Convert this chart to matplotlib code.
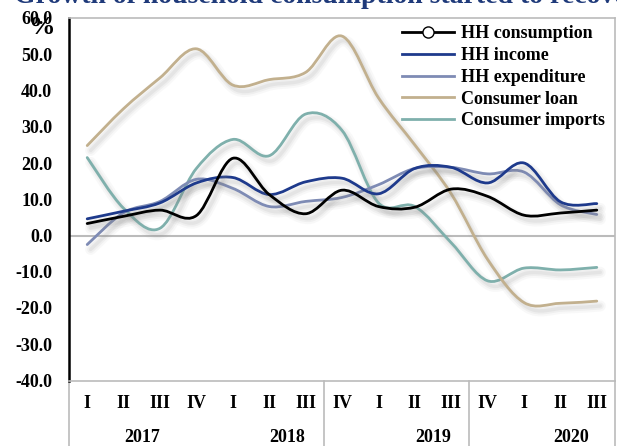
import matplotlib
matplotlib.use("Agg")
import matplotlib.pyplot as plt
import matplotlib.patheffects as pe
from matplotlib.path import Path
from matplotlib.patches import PathPatch
from matplotlib.lines import Line2D
import matplotlib.transforms as mtransforms

plt.rcParams["font.family"] = "Liberation Serif"
plt.rcParams["font.weight"] = "bold"

quarters = ["I", "II", "III", "IV", "I", "II", "III", "IV",
            "I", "II", "III", "IV", "I", "II", "III"]
years = ["2017", "2018", "2019", "2020"]
year_pos = [2.0, 6.0, 10.0, 13.8]
year_breaks = [7, 11]

consumption = [3.3, 5.3, 7.0, 5.5, 21.3, 11.3, 6.0, 12.5, 8.0, 7.8, 12.8, 10.8, 5.6, 6.2, 7.0]
income = [4.6, 6.7, 9.0, 14.5, 16.0, 11.3, 14.8, 15.8, 11.5, 18.5, 18.8, 14.5, 20.0, 9.3, 8.8]
expenditure = [-2.5, 6.3, 9.4, 15.5, 13.0, 8.0, 9.4, 10.5, 14.0, 18.5, 18.8, 17.0, 17.5, 8.5, 5.8]
loan = [24.8, 35.0, 43.5, 51.5, 41.5, 43.0, 45.0, 55.0, 38.0, 25.0, 11.5, -6.6, -18.5, -18.7, -18.1]
imports = [21.5, 7.5, 2.0, 18.5, 26.5, 22.0, 33.5, 29.0, 9.0, 8.0, -2.0, -12.5, -9.0, -9.5, -8.8]

series = [
    ("Consumer imports", imports, "#7FB0AC"),
    ("Consumer loan", loan, "#C2B08E"),
    ("HH expenditure", expenditure, "#7E8BB4"),
    ("HH income", income, "#1E3A8C"),
    ("HH consumption", consumption, "black"),
]

FS = 13


def smooth_path(xs, ys):
    # Catmull-Rom style cubic Bezier through every point (like a "smoothed line")
    pts = list(zip(xs, ys))
    verts = [pts[0]]
    codes = [Path.MOVETO]
    n = len(pts)
    for i in range(n - 1):
        p0 = pts[i - 1] if i > 0 else pts[i]
        p1 = pts[i]
        p2 = pts[i + 1]
        p3 = pts[i + 2] if i + 2 < n else pts[i + 1]
        c1 = (p1[0] + (p2[0] - p0[0]) / 6, p1[1] + (p2[1] - p0[1]) / 6)
        c2 = (p2[0] - (p3[0] - p1[0]) / 6, p2[1] - (p3[1] - p1[1]) / 6)
        verts += [c1, c2, p2]
        codes += [Path.CURVE4] * 3
    return Path(verts, codes)


fig = plt.figure(figsize=(6.17, 4.46), dpi=100)
ax = fig.add_axes([69 / 617, 1 - 380.5 / 446, 546 / 617, (380.5 - 18) / 446])

x = [i + 0.5 for i in range(len(quarters))]
shadow = [
    pe.Stroke(offset=(2.5, -3.5), linewidth=8, foreground="#888888", alpha=0.05),
    pe.Stroke(offset=(2.5, -3.5), linewidth=5, foreground="#888888", alpha=0.08),
    pe.Stroke(offset=(2.5, -3.5), linewidth=2.5, foreground="#888888", alpha=0.10),
    pe.Normal(),
]
for label, vals, color in series:
    patch = PathPatch(smooth_path(x, vals), facecolor="none", edgecolor=color,
                      linewidth=2, capstyle="round", joinstyle="round", zorder=3)
    patch.set_path_effects(shadow)
    ax.add_patch(patch)

ax.axhline(0, color="#BBBBBB", linewidth=1.5, zorder=1)
ax.set_xlim(0, 15)
ax.set_ylim(-40, 60)
ax.set_yticks(range(-40, 61, 10))
ax.set_yticklabels([f"{v:.1f}" for v in range(-40, 61, 10)])
ax.tick_params(axis="y", length=0, pad=12, labelsize=FS)
ax.set_xticks([])

ax.spines["left"].set_color("black")
ax.spines["left"].set_linewidth(1.8)
for side in ("top", "right", "bottom"):
    ax.spines[side].set_color("#BBBBBB")
    ax.spines[side].set_linewidth(1.2)

# category axis below the plot
trans = mtransforms.blended_transform_factory(ax.transData, fig.transFigure)
for xi, q in zip(x, quarters):
    ax.text(xi, 1 - 404 / 446, q, transform=trans, ha="center", va="center", fontsize=FS)
for xp, yr in zip(year_pos, years):
    ax.text(xp, 1 - 437 / 446, yr, transform=trans, ha="center", va="center", fontsize=FS)
for xb in [0] + year_breaks + [15]:
    ax.add_line(Line2D([xb, xb], [0, 1 - 380.5 / 446], transform=trans,
                       color="#BBBBBB", linewidth=1.2, clip_on=False))

fig.text(42 / 617, 1 - 28 / 446, "%", ha="center", va="center", fontsize=19)
fig.text(14 / 617, 1 - 3 / 446, "Growth of household consumption started to recover",
         ha="left", va="baseline", fontsize=20, color="#1F3A7A")

handles = []
for label, vals, color in reversed(series):
    if label == "HH consumption":
        h = Line2D([], [], color=color, linewidth=2, marker="o", markersize=8,
                   markerfacecolor="white", markeredgecolor="black")
    else:
        h = Line2D([], [], color=color, linewidth=2)
    handles.append(h)
fig.legend(handles, [s[0] for s in reversed(series)], loc="upper left",
           bbox_to_anchor=(402 / 617, 1 - 25.5 / 446), frameon=False, fontsize=FS,
           handlelength=2.9, handletextpad=0.35, labelspacing=0.26, borderpad=0,
           borderaxespad=0)

fig.savefig("out.png", dpi=100)
